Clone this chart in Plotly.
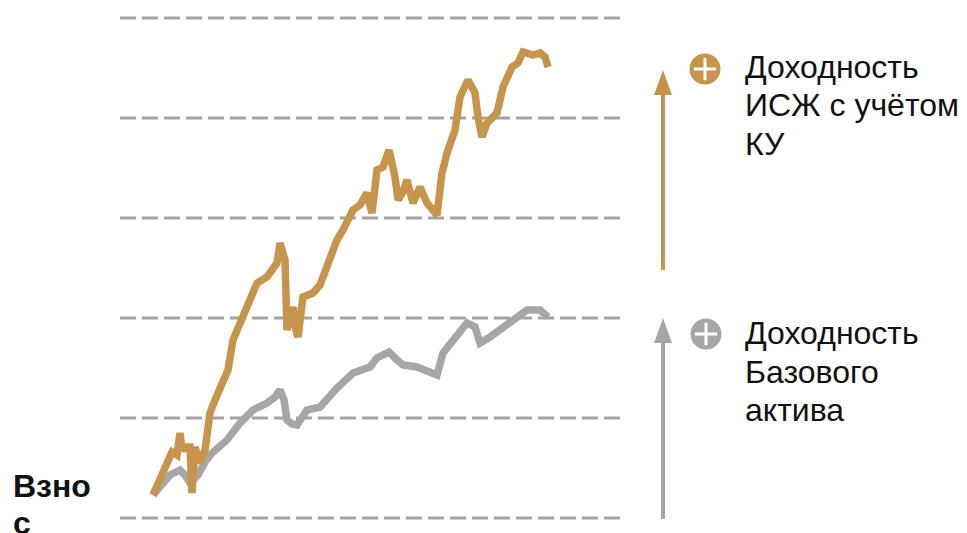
import plotly.graph_objects as go

# ---- data (time index, value in grid units) ----
gold_t = [6.6, 8, 9.4, 10.4, 11.4, 12, 12.4, 13.2, 14, 14.4, 15, 16, 17, 18, 19, 20, 21.6, 22.6,
          24, 25.4, 27.4, 29.4, 30.4, 31.4, 32, 33, 33.4, 34, 34.6, 35.2, 35.6, 36.6, 38.6, 40,
          41.4, 43.4, 44.6, 46.6, 48, 49.4, 50.4, 51.4, 52.6, 53.8, 55, 55.6, 56.6, 57.4, 58.6,
          60, 61.4, 62.4, 63.4, 64.4, 65.4, 67, 68, 69.6, 71, 71.6, 72.4, 73.4, 75.4, 76.6, 78.4,
          79.6, 80.6, 82.6, 84, 85, 85.6]
gold_v = [0.23, 0.38, 0.55, 0.66, 0.63, 0.85, 0.68, 0.71, 0.71, 0.25, 0.71, 0.55, 0.68, 1.05,
          1.18, 1.28, 1.48, 1.78, 1.95, 2.15, 2.35, 2.41, 2.48, 2.55, 2.75, 2.58, 1.88, 2.03,
          2.11, 1.88, 1.81, 2.21, 2.25, 2.33, 2.51, 2.78, 2.88, 3.08, 3.13, 3.25, 3.05, 3.48,
          3.51, 3.68, 3.41, 3.18, 3.26, 3.38, 3.15, 3.31, 3.15, 3.10, 3.03, 3.45, 3.65, 3.88,
          4.21, 4.38, 4.25, 4.01, 3.81, 3.95, 4.05, 4.31, 4.51, 4.55, 4.66, 4.63, 4.65, 4.61, 4.51]

base_t = [6.6, 8, 10, 12, 13, 14, 14.8, 15.6, 17, 18.4, 20, 21.4, 24, 26.6, 29.4, 31, 32, 32.8,
          33.4, 34.4, 35.4, 37.4, 40, 43.4, 46.6, 50, 51.4, 53.8, 55.4, 56.6, 59.4, 63.4, 64.6,
          67.4, 69.4, 71, 72, 74, 76.6, 79.4, 81.4, 84, 85.6]
base_v = [0.23, 0.31, 0.43, 0.48, 0.43, 0.35, 0.40, 0.43, 0.56, 0.65, 0.72, 0.78, 0.95, 1.08,
          1.15, 1.21, 1.28, 1.18, 0.98, 0.94, 0.93, 1.08, 1.11, 1.30, 1.45, 1.51, 1.60, 1.66,
          1.58, 1.53, 1.51, 1.43, 1.65, 1.81, 1.95, 1.91, 1.75, 1.81, 1.91, 2.01, 2.08, 2.08, 2.01]

grid_levels = [0, 1, 2, 3, 4, 5]
grid_start, grid_end = 0, 100

label_gold = ["Доходность", "ИСЖ с учётом", "КУ"]
label_base = ["Доходность", "Базового", "актива"]
label_left = ["<b>Взно</b>", "<b>с</b>"]

GOLD = "#C6944B"
GREY = "#A6A6A6"
GRID = "#A3A3A3"
FONT = "Liberation Sans, Arial, sans-serif"

fig = go.Figure()

shapes = []
for lv in grid_levels:
    shapes.append(dict(type="line", xref="x", yref="y", x0=grid_start, x1=grid_end, y0=lv, y1=lv,
                       line=dict(color=GRID, width=3, dash="16px,6px"), layer="below"))

# arrows (shaft + head)
arrow_x = 108.6
arrows = [(GOLD, 2.48, 4.23, 4.48), (GREY, -0.01, 1.75, 2.0)]
for col, y_bot, y_base, y_tip in arrows:
    shapes.append(dict(type="line", xref="x", yref="y", x0=arrow_x, x1=arrow_x, y0=y_bot,
                       y1=y_base, line=dict(color=col, width=4)))
    shapes.append(dict(type="path", xref="x", yref="y",
                       path=f"M {arrow_x-1.8},{y_base} L {arrow_x+1.8},{y_base} L {arrow_x},{y_tip} Z",
                       fillcolor=col, line=dict(width=0)))

fig.add_trace(go.Scatter(x=base_t, y=base_v, mode="lines",
                         line=dict(color=GREY, width=7.5), hoverinfo="skip"))
fig.add_trace(go.Scatter(x=gold_t, y=gold_v, mode="lines",
                         line=dict(color=GOLD, width=7.5), hoverinfo="skip"))

# legend circles with plus
circ_x = [117.0, 117.2]
circ_y = [4.49, 1.84]
circ_c = [GOLD, GREY]
fig.add_trace(go.Scatter(x=circ_x, y=circ_y, mode="markers",
                         marker=dict(size=31, color=circ_c, line=dict(width=0)), hoverinfo="skip"))
fig.add_trace(go.Scatter(x=circ_x, y=circ_y, mode="markers",
                         marker=dict(symbol="cross-thin-open", size=16, color="white",
                                     line=dict(width=3, color="white")), hoverinfo="skip"))

annotations = []
def add_lines(lines, x, tops):
    for txt, top in zip(lines, tops):
        annotations.append(dict(x=x, y=top, xref="x", yref="y", text=txt, showarrow=False,
                                xanchor="left", yanchor="top", align="left",
                                font=dict(family=FONT, size=32, color="#111111")))

add_lines(label_gold, 124.6, [4.715, 4.33, 3.945])
add_lines(label_base, 124.6, [2.05, 1.665, 1.28])
add_lines(label_left, -21.8, [0.52, 0.15])

fig.update_layout(
    width=967, height=533,
    margin=dict(l=0, r=0, t=0, b=0),
    paper_bgcolor="white", plot_bgcolor="white",
    showlegend=False,
    xaxis=dict(range=[-22.4, 171], visible=False, fixedrange=True),
    yaxis=dict(range=[-0.23, 5.10], visible=False, fixedrange=True),
    shapes=shapes,
    annotations=annotations,
)

fig.write_html("out.html")
